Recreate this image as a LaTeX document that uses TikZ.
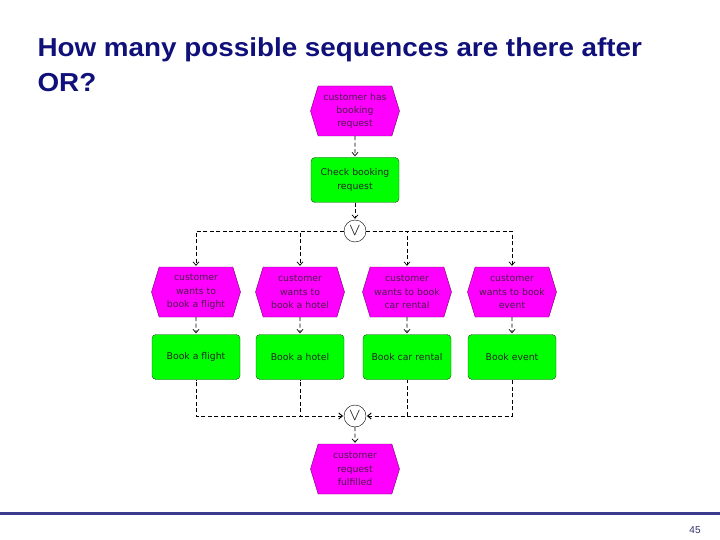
\documentclass[tikz,border=0pt]{standalone}
\usepackage{fontspec}
\setmainfont{DejaVu Sans}
\newfontfamily\titlefont[FakeStretch=1.07]{Liberation Sans}
\newfontfamily\footfont{Liberation Sans}
\usetikzlibrary{arrows.meta, positioning, shapes.symbols}
\usepackage{xcolor}
\definecolor{titleblue}{HTML}{10107A}
\definecolor{eventfill}{HTML}{FF00FF}
\definecolor{eventline}{HTML}{6A006A}
\definecolor{eventtext}{HTML}{4A1A4A}
\definecolor{funcfill}{HTML}{00FF00}
\definecolor{funcline}{HTML}{1A4A1A}
\definecolor{barblue}{HTML}{3A3A8E}

\begin{document}
\begin{tikzpicture}[x=1pt,y=-1pt,>={Straight Barb[length=3.5pt,width=6pt]}]
    \tikzstyle{flow}=[->,dash pattern=on 4pt off 2.5pt,shorten >=1pt,line width=0.7pt]
    \tikzstyle{backflow}=[<-,dash pattern=on 4pt off 2.5pt,shorten <=1pt,line width=0.7pt]
    \tikzstyle{event}=[signal,signal to=west and east,signal pointer angle=146,fill=eventfill,draw=eventline,
        minimum width=89pt,minimum height=50pt,inner sep=1pt,align=center,text=eventtext,
        font=\fontsize{9.3}{13.3}\selectfont]
    \tikzstyle{function}=[rectangle,rounded corners=4pt,fill=funcfill,draw=funcline,
        minimum width=88pt,minimum height=45pt,inner sep=1pt,align=center,text=black!85,
        font=\fontsize{9.3}{13.3}\selectfont]
    \tikzstyle{orconn}=[circle,draw=black,fill=white,minimum size=22pt,inner sep=0pt,font=\LARGE]

    \useasboundingbox (0,0) rectangle (720,540);

    % title and footer
    \node[anchor=base west,align=left,text=titleblue,font=\titlefont\bfseries\fontsize{26}{35}\selectfont]
        (title) at (34,92) {How many possible sequences are there after\\OR?};
    \draw[barblue,line width=3pt] (0,513) -- (720,513);
    \node[text=barblue!80!black,font=\footfont\fontsize{10}{12}\selectfont] (page) at (695,530) {45};

    % top
    \node[event] (E-0) at (355,111) {customer has\\booking\\request};
    \node[function] (F-0) at (355,180) {Check booking\\request};
    \node[orconn] (OR-1) at (355,231) {$\vee$};
    \path (E-0) edge[flow] (F-0);
    \path (F-0) edge[flow] (OR-1);

    % branches
    \foreach \i/\x/\etxt/\ftxt in {1/196/{customer\\wants to\\book a flight}/{Book a flight},
                                   2/300/{customer\\wants to\\book a hotel}/{Book a hotel},
                                   3/407/{customer\\wants to book\\car rental}/{Book car rental},
                                   4/512/{customer\\wants to book\\event}/{Book event}}{
        \node[event] (E-\i) at (\x,292) {\etxt};
        \node[function] (F-\i) at (\x,357) {\ftxt};
        \path (E-\i) edge[flow] (F-\i);
        }

    \node[orconn] (OR-2) at (355,416) {$\vee$};
    \node[event] (E-5) at (355,469) {customer\\request\\fulfilled};
    \path (OR-2) edge[flow] (E-5);

    \foreach \i/\side in {1/west,2/west,3/east,4/east}{
        \draw[flow] (OR-1.\side) -| (E-\i.north);
        \draw[backflow] (OR-2.\side) -| (F-\i.south);
        }

\end{tikzpicture}
\end{document}
